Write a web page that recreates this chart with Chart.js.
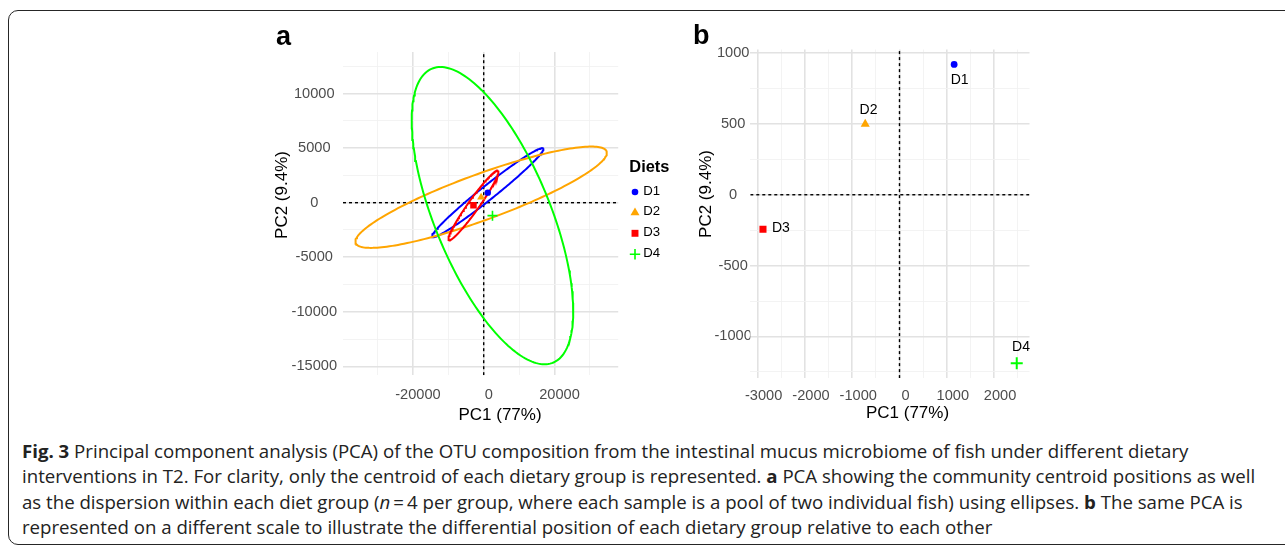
<!DOCTYPE html>
<html>
<head>
<meta charset="utf-8">
<script src="https://cdn.jsdelivr.net/npm/chart.js@4/dist/chart.umd.min.js"></script>
<style>
html,body{margin:0;padding:0;background:#fff;width:1285px;height:548px;overflow:hidden;position:relative}
#frame{position:absolute;left:8px;top:10px;width:1300px;height:535px;border:1.7px solid #262626;border-radius:10px;box-sizing:border-box}
canvas{position:absolute;left:0;top:0}
#cap{position:absolute;left:22px;top:438px;font-family:"Open Sans",sans-serif;font-size:16px;line-height:25.4px;color:#222;white-space:nowrap}
#cap div{white-space:nowrap}
#cap span.l{display:inline-block}
</style>
</head>
<body>
<div id="frame"></div>
<canvas id="ca" width="700" height="430" style="width:700px;height:430px"></canvas>
<canvas id="cb" width="1285" height="430" style="width:1285px;height:430px"></canvas>
<div id="cap">
<div><span class="l" id="l1"><b>Fig. 3</b> Principal component analysis (PCA) of the OTU composition from the intestinal mucus microbiome of fish under different dietary</span></div>
<div><span class="l" id="l2">interventions in T2. For clarity, only the centroid of each dietary group is represented. <b>a</b> PCA showing the community centroid positions as well</span></div>
<div><span class="l" id="l3">as the dispersion within each diet group (<i>n</i>&#8201;=&#8201;4 per group, where each sample is a pool of two individual fish) using ellipses. <b>b</b> The same PCA is</span></div>
<div><span class="l" id="l4">represented on a different scale to illustrate the differential position of each dietary group relative to each other</span></div>
</div>
<script>
// ---------------- data ----------------
const diets = ['D1', 'D2', 'D3', 'D4'];
// group centroids (PC1, PC2)
const pc1 = [1156, -725, -2888, 2480];
const pc2 = [920, 499, -244, -1189];
// dispersion ellipses: conjugate semi-axes in PC units
const ellUx = [15679, 35454, 6950, -14690];
const ellUy = [4049, 4195, 3179, 13612];
const ellVx = [1232, 2226, 1268, 17459];
const ellVy = [-502, -1979, -291, 0];
// tick values
const aXTicks = [-20000, 0, 20000];
const aXMinor = [-30000, -10000, 10000, 30000];
const aYTicks = [-15000, -10000, -5000, 0, 5000, 10000];
const aYMinor = [-12500, -7500, -2500, 2500, 7500, 12500];
const bXTicks = [-3000, -2000, -1000, 0, 1000, 2000];
const bXMinor = [-2500, -1500, -500, 500, 1500, 2500];
const bYTicks = [-1000, -500, 0, 500, 1000];
const bYMinor = [-1250, -750, -250, 250, 750];
const aXRange = [-39750, 38000];
const aYRange = [-15800, 13800];
const bXRange = [-3156, 2750];
const bYRange = [-1294, 1025];
const xTitle = 'PC1 (77%)';
const yTitle = 'PC2 (9.4%)';
const legendTitle = 'Diets';

// ---------------- styles ----------------
const colors = ['#0000ff', '#ffa500', '#ff0000', '#00ff00'];
const shapes = ['circle', 'triangle', 'rect', 'cross'];
const FONT = "'Liberation Sans', Arial, sans-serif";
Chart.defaults.font.family = FONT;

function ellipsePts(i) {
  const pts = [], N = 200;
  for (let k = 0; k <= N; k++) {
    const t = 2 * Math.PI * k / N;
    pts.push({x: pc1[i] + ellUx[i] * Math.cos(t) + ellVx[i] * Math.sin(t),
              y: pc2[i] + ellUy[i] * Math.cos(t) + ellVy[i] * Math.sin(t)});
  }
  return pts;
}

function drawMarker(ctx, shape, x, y, r, color, lw) {
  ctx.save();
  ctx.fillStyle = color; ctx.strokeStyle = color; ctx.lineWidth = lw || 1.6;
  ctx.beginPath();
  if (shape === 'circle') { ctx.arc(x, y, r, 0, 2 * Math.PI); ctx.fill(); }
  else if (shape === 'triangle') {
    ctx.moveTo(x, y - r);
    ctx.lineTo(x + r * 0.866, y + r * 0.5);
    ctx.lineTo(x - r * 0.866, y + r * 0.5);
    ctx.closePath(); ctx.fill();
  } else if (shape === 'rect') { const s = r * Math.SQRT1_2; ctx.rect(x - s, y - s, 2 * s, 2 * s); ctx.fill(); }
  else { ctx.moveTo(x - r, y); ctx.lineTo(x + r, y); ctx.moveTo(x, y - r); ctx.lineTo(x, y + r); ctx.stroke(); }
  ctx.restore();
}

function scaleCfg(range, major, minor, isX, size, pad, labelOffset) {
  const all = major.concat(minor).sort((a, b) => a - b);
  const isMajor = v => major.includes(v);
  const cfg = {
    type: 'linear', min: range[0], max: range[1], bounds: 'data',
    afterBuildTicks: s => { s.ticks = all.map(v => ({value: v})); },
    afterFit: s => { if (isX) s.height = size; else s.width = size; },
    border: {display: false},
    grid: {
      drawTicks: false,
      color: c => (c.tick && isMajor(c.tick.value)) ? '#e2e2e2' : '#f2f2f2',
      lineWidth: c => (c.tick && isMajor(c.tick.value)) ? 1.6 : 0.9
    },
    ticks: {
      autoSkip: false, maxRotation: 0, minRotation: 0,
      callback: v => isMajor(v) ? String(v) : '',
      font: {family: FONT, size: 14.6}, color: '#4d4d4d', padding: pad
    }
  };
  if (isX) cfg.ticks.labelOffset = labelOffset;
  else cfg.ticks.crossAlign = 'center';
  return cfg;
}

function zeroLines(xr, yr) {
  const base = {showLine: true, borderColor: '#000', borderWidth: 1.4, borderDash: [3, 3],
                pointRadius: 0, order: 20, tension: 0};
  return [
    Object.assign({data: [{x: 0, y: yr[0]}, {x: 0, y: yr[1]}]}, base),
    Object.assign({data: [{x: xr[0], y: 0}, {x: xr[1], y: 0}]}, base)
  ];
}

function centroidSets(rs, crossW) {
  return diets.map((d, i) => ({
    label: d, data: [{x: pc1[i], y: pc2[i]}],
    pointStyle: shapes[i], pointRadius: rs[i], backgroundColor: colors[i], borderColor: colors[i],
    borderWidth: shapes[i] === 'cross' ? crossW : 0, order: 1
  }));
}

function text(ctx, str, x, y, font, align, color, rot) {
  ctx.save();
  ctx.font = font; ctx.fillStyle = color || '#000';
  ctx.textAlign = align || 'center'; ctx.textBaseline = 'middle';
  ctx.translate(x, y);
  if (rot) ctx.rotate(rot);
  ctx.fillText(str, 0, 0);
  ctx.restore();
}

// ---------------- panel a ----------------
const ellSets = diets.map((d, i) => ({
  label: d + ' ellipse', data: ellipsePts(i), showLine: true, borderColor: colors[i],
  borderWidth: 2, pointRadius: 0, tension: 0, fill: false, order: 8 - i
}));

const annotA = {
  id: 'annotA',
  afterDraw(chart) {
    const ctx = chart.ctx;
    text(ctx, 'a', 276, 38, "bold 27px " + FONT, 'left', '#000');
    text(ctx, yTitle, 282.5, 195, "17px " + FONT, 'center', '#000', -Math.PI / 2);
    text(ctx, xTitle, 500, 415, "17px " + FONT, 'center', '#000');
    // legend
    text(ctx, legendTitle, 629.3, 167, "bold 16.4px " + FONT, 'left', '#000');
    const ly = [191, 211.7, 232.3, 253.3];
    const lr = [3.3, 5.2, 4.9, 5.2];
    diets.forEach((d, i) => {
      drawMarker(ctx, shapes[i], 635, ly[i] + 1, lr[i], colors[i], 1.6);
      text(ctx, d, 643.3, ly[i], "13.2px " + FONT, 'left', '#000');
    });
  }
};

new Chart(document.getElementById('ca'), {
  type: 'scatter',
  data: {datasets: zeroLines(aXRange, aYRange).concat(ellSets).concat(centroidSets([3.2, 4.6, 4.6, 5], 1.6))},
  options: {
    responsive: false, animation: false, devicePixelRatio: 1, events: [],
    layout: {padding: {left: 0, top: 52, right: 700 - 618.2, bottom: 430 - 375.2 - 30}},
    plugins: {legend: {display: false}, tooltip: {enabled: false}},
    scales: {
      x: scaleCfg(aXRange, aXTicks, aXMinor, true, 30, 11, 5),
      y: scaleCfg(aYRange, aYTicks, aYMinor, false, 343, 6)
    }
  },
  plugins: [annotA]
});

// ---------------- panel b ----------------
const labelDx = [5.5, 3.3, 9, 4.3];
const labelDy = [16, -14.3, -1, -16];
const labelAlign = ['center', 'center', 'left', 'center'];

const annotB = {
  id: 'annotB',
  afterDraw(chart) {
    const ctx = chart.ctx, sx = chart.scales.x, sy = chart.scales.y;
    text(ctx, 'b', 693, 37, "bold 27px " + FONT, 'left', '#000');
    text(ctx, yTitle, 706, 194, "17px " + FONT, 'center', '#000', -Math.PI / 2);
    text(ctx, xTitle, 907.5, 413, "17px " + FONT, 'center', '#000');
    diets.forEach((d, i) => {
      text(ctx, d, sx.getPixelForValue(pc1[i]) + labelDx[i], sy.getPixelForValue(pc2[i]) + labelDy[i],
           "14px " + FONT, labelAlign[i], '#000');
    });
  }
};

new Chart(document.getElementById('cb'), {
  type: 'scatter',
  data: {datasets: zeroLines(bXRange, bYRange).concat(centroidSets([3.4, 5.2, 5, 6], 2))},
  options: {
    responsive: false, animation: false, devicePixelRatio: 1, events: [],
    layout: {padding: {left: 0, top: 49.5, right: 1285 - 1029.5, bottom: 430 - 378.1 - 30}},
    plugins: {legend: {display: false}, tooltip: {enabled: false}},
    scales: {
      x: scaleCfg(bXRange, bXTicks, bXMinor, true, 30, 8.8, 6),
      y: scaleCfg(bYRange, bYTicks, bYMinor, false, 750.3, -1.5)
    }
  },
  plugins: [annotB]
});

// fit caption width to reference line width
(function fitCaption() {
  const cap = document.getElementById('cap');
  const l2 = document.getElementById('l2');
  const target = 1234;
  const w = l2.getBoundingClientRect().width;
  if (w > 0) cap.style.fontSize = (16 * target / w).toFixed(3) + 'px';
})();
</script>
</body>
</html>
